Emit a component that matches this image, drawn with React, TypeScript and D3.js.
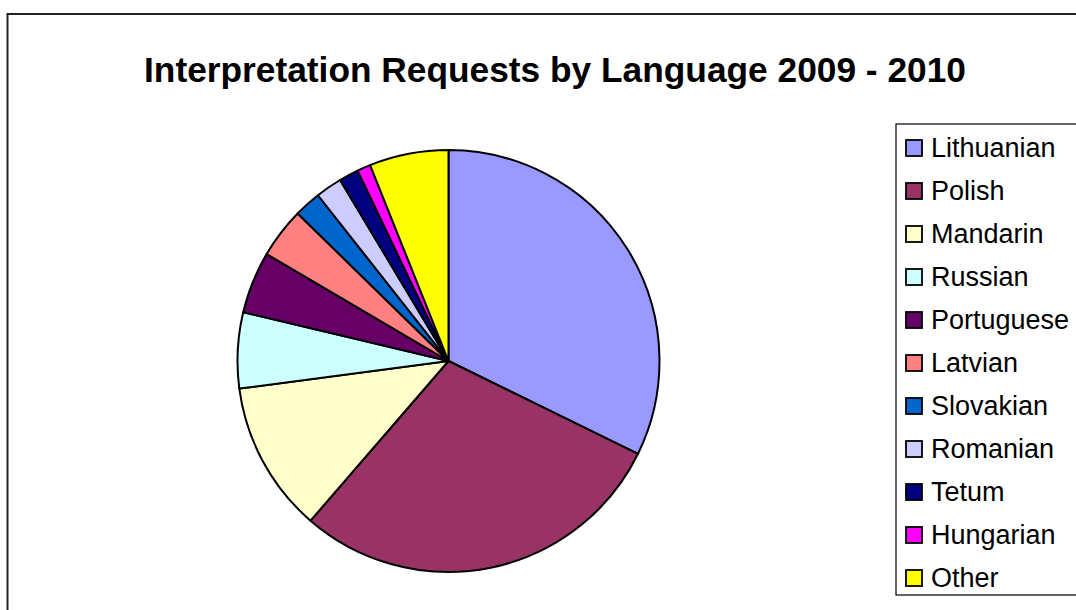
import React from "react";
import * as d3 from "d3";

const categories = ["Lithuanian", "Polish", "Mandarin", "Russian", "Portuguese", "Latvian", "Slovakian", "Romanian", "Tetum", "Hungarian", "Other"];
const values = [32.25, 29.1, 11.57, 5.8, 4.75, 3.86, 2.06, 2.03, 1.5, 1.03, 6.06];
const colors = ["#9999FF", "#993366", "#FFFFCC", "#CCFFFF", "#660066", "#FF8080", "#0066CC", "#CCCCFF", "#000080", "#FF00FF", "#FFFF00"];
const title = "Interpretation Requests by Language 2009 - 2010";

export default function App() {
  const W = 1076, H = 610;
  const cx = 448.5, cy = 361, r = 211;
  const data = categories.map((c, i) => ({ name: c, value: values[i], color: colors[i] }));
  const pie = d3.pie<any>().value((d: any) => d.value).sort(null).startAngle(0).endAngle(2 * Math.PI);
  const arc = d3.arc<any>().innerRadius(0).outerRadius(r);
  const arcs = pie(data);
  const legendY = d3.scaleBand<string>().domain(categories).range([127, 600]).paddingInner(0);
  const font = "'Liberation Sans', Arial, sans-serif";
  return (
    <svg width={W} height={H} style={{ position: "absolute", left: 0, top: 0, display: "block" }} fontFamily={font}>
      <rect x={0} y={0} width={W} height={H} fill="#fff" />
      <rect x={7.5} y={14} width={1200} height={800} fill="#fff" stroke="#222" strokeWidth={2} />
      <text x={555} y={81.5} textAnchor="middle" fontSize={35.3} fontWeight="bold" fill="#000">{title}</text>
      <g transform={`translate(${cx},${cy})`}>
        {arcs.map((a, i) => (
          <path key={i} d={arc(a) as string} fill={a.data.color} stroke="#000" strokeWidth={2} strokeLinejoin="round" />
        ))}
      </g>
      <rect x={896} y={124} width={300} height={471} fill="#fff" stroke="#000" strokeWidth={1.2} />
      {categories.map((c, i) => {
        const yc = (legendY(c) as number) + legendY.bandwidth() / 2 - 0.5;
        return (
          <g key={c}>
            <rect x={906} y={yc - 8} width={16} height={16} fill={colors[i]} stroke="#000" strokeWidth={1.8} />
            <text x={931} y={yc + 9} fontSize={27} fill="#000">{c}</text>
          </g>
        );
      })}
    </svg>
  );
}
